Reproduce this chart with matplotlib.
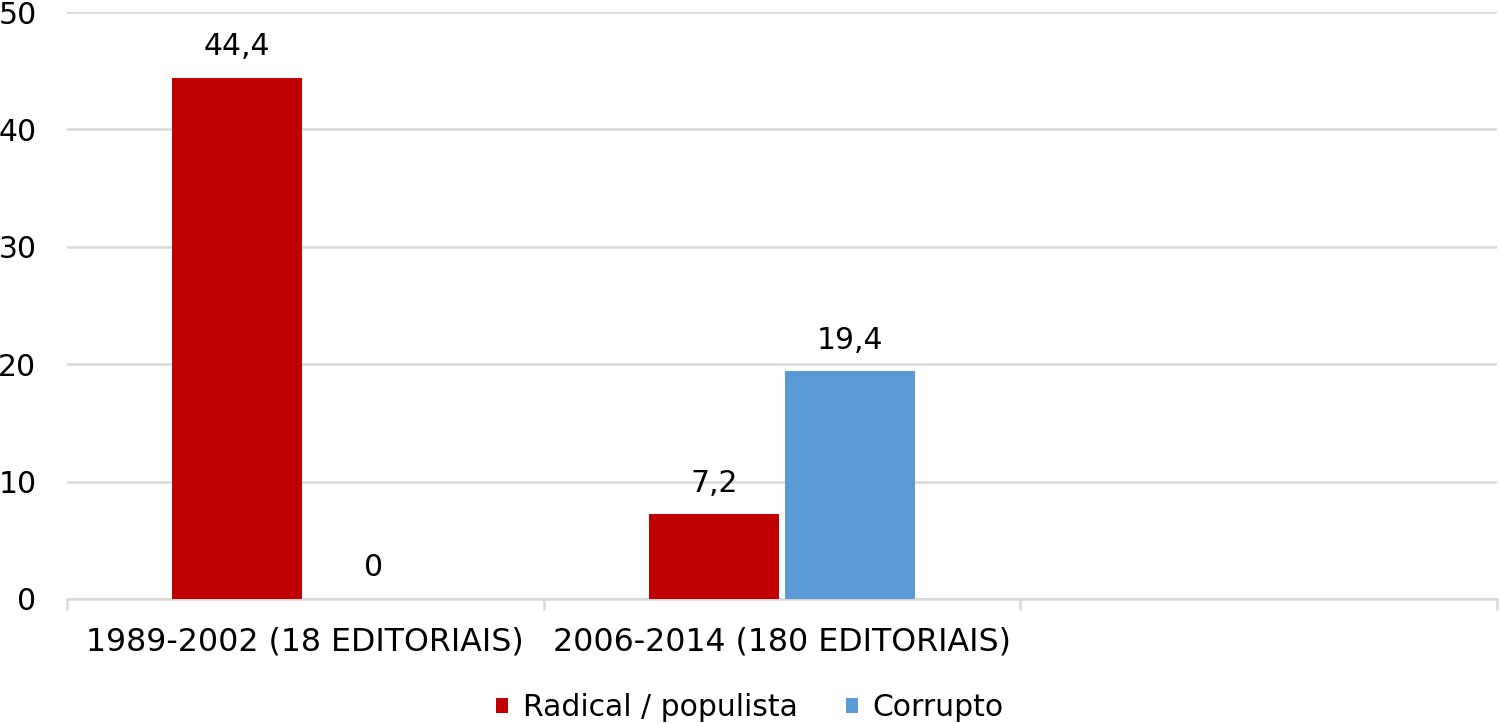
import matplotlib
matplotlib.use("Agg")
import matplotlib.pyplot as plt
import numpy as np

categories = ["1989-2002 (18 EDITORIAIS)", "2006-2014 (180 EDITORIAIS)", ""]
series_names = ["Radical / populista", "Corrupto"]
radical = [44.4, 7.2, None]
corrupto = [0, 19.4, None]
colors = ["#C00000", "#5B9BD5"]

plt.rcParams['font.family'] = ['DejaVu Sans']
FS = 21.5
fig = plt.figure(figsize=(15, 7.23), dpi=100)
ax = fig.add_axes([67/1500, 1-599/723, 1430/1500, 587/723])

x = np.arange(len(categories))
w = 0.273
off = 0.143
for vals, o, c, name in [(radical, -off, colors[0], series_names[0]), (corrupto, off, colors[1], series_names[1])]:
    xs = [xi + o for xi, v in zip(x, vals) if v is not None]
    vs = [v for v in vals if v is not None]
    bars = ax.bar(xs, vs, width=w, color=c, label=name, zorder=3)
    for b, v in zip(bars, vs):
        lab = f"{v:g}".replace('.', ',')
        ax.annotate(lab, (b.get_x() + b.get_width()/2, v), xytext=(0, 12),
                    textcoords='offset points', ha='center', va='bottom',
                    fontsize=FS, color='#000000')

ax.set_xlim(-0.5, 2.5)
ax.set_ylim(0, 50)
ax.set_yticks(np.arange(0, 51, 10))
ax.grid(axis='y', color='#D9D9D9', linewidth=1.8, zorder=0)
for s in ['top', 'right', 'left']:
    ax.spines[s].set_visible(False)
ax.spines['bottom'].set_color('#D9D9D9')
ax.spines['bottom'].set_linewidth(1.8)
ax.tick_params(axis='y', length=0, labelsize=FS, pad=22)
ax.set_xticks(x)
ax.set_xticklabels(categories, fontsize=22.8)
ax.tick_params(axis='x', length=0, pad=20)
ax.set_xticks(np.arange(-0.5, 2.6, 1), minor=True)
ax.tick_params(axis='x', which='minor', length=8, color='#D9D9D9', width=1.8)

leg = fig.legend(loc='lower center', bbox_to_anchor=(0.5, -0.036), ncol=2, frameon=False,
                 fontsize=FS, handlelength=0.4, handleheight=0.4, handletextpad=0.5,
                 columnspacing=1.6)
fig.savefig("out.png", dpi=100)
